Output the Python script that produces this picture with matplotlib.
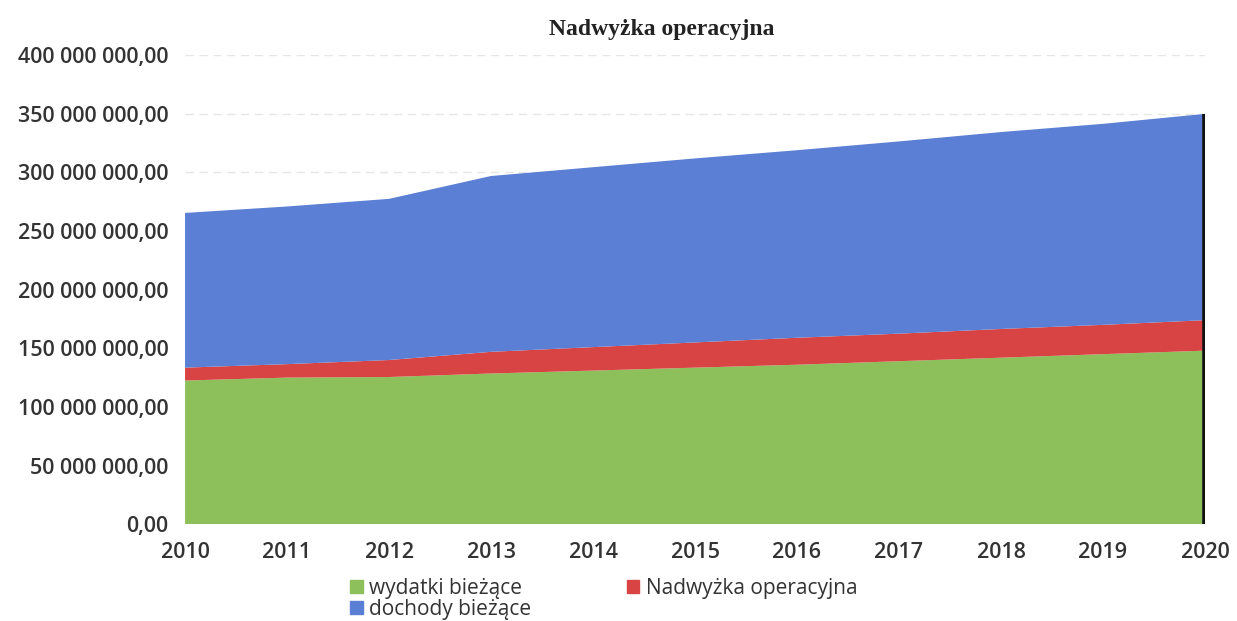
import matplotlib
matplotlib.use('Agg')
import matplotlib.pyplot as plt
from matplotlib.patches import Patch
from matplotlib.ticker import FuncFormatter

years = [2010, 2011, 2012, 2013, 2014, 2015, 2016, 2017, 2018, 2019, 2020]
# values in mln zł (stacked area)
wydatki = [122.5, 125.0, 125.5, 128.5, 131.0, 133.5, 136.0, 139.0, 142.0, 145.0, 148.0]
nadwyzka = [11.0, 11.5, 14.5, 18.5, 20.0, 21.5, 23.0, 23.5, 24.5, 25.0, 26.0]
dochody = [132.0, 134.5, 137.5, 150.0, 153.5, 157.0, 160.0, 164.0, 168.0, 171.5, 176.0]

green = '#8dbf5a'
red = '#d84343'
blue = '#5b7fd4'

fig = plt.figure(figsize=(12.37, 6.21), dpi=100)
ax = fig.add_axes([0.1496, 0.156, 0.8245, 0.755])

w = [v * 1e6 for v in wydatki]
n = [v * 1e6 for v in nadwyzka]
d = [v * 1e6 for v in dochody]
ax.stackplot(years, w, n, d, colors=[green, red, blue], linewidth=0)

top = [a + b + c for a, b, c in zip(w, n, d)]
ax.vlines(years[-1], 0, top[-1], color='#111111', linewidth=4)

ax.set_xlim(years[0], years[-1])
ax.set_ylim(0, 400e6)
ax.set_yticks([i * 50e6 for i in range(9)])
ax.set_xticks(years)

def fmt(v, pos):
    s = '{:,.2f}'.format(v).replace(',', ' ').replace('.', ',')
    return s

ax.yaxis.set_major_formatter(FuncFormatter(fmt))
ax.grid(axis='y', color='#e6e6e6', linewidth=1, linestyle=(0, (6, 4)))
ax.set_axisbelow(True)
for s in ax.spines.values():
    s.set_visible(False)
ax.tick_params(length=0)
ax.tick_params(axis='y', pad=12)
ax.tick_params(axis='x', pad=13)
for lab in ax.get_yticklabels() + ax.get_xticklabels():
    lab.set_fontfamily('Open Sans')
    lab.set_fontsize(15.5)
    lab.set_color('#333333')
    lab.set_fontweight('semibold')

fig.text(0.535, 0.953, 'Nadwyżka operacyjna', ha='center', va='center',
         fontfamily='Liberation Serif', fontweight='bold', fontsize=17, color='#222222')

handles = [Patch(color=green, label='wydatki bieżące'),
           Patch(color=blue, label='dochody bieżące'),
           Patch(color=red, label='Nadwyżka operacyjna')]
fig.legend(handles=handles, loc='upper left', bbox_to_anchor=(0.268, 0.1), ncol=2,
           frameon=False, handlelength=0.6, handleheight=0.6, handletextpad=0.3,
           columnspacing=4.6, labelspacing=0.0,
           prop={'family': 'Open Sans', 'size': 15}, labelcolor='#333333')

fig.savefig('out.png', dpi=100)
